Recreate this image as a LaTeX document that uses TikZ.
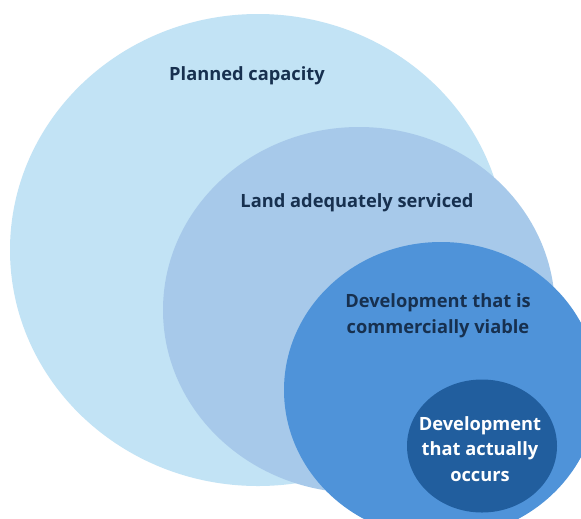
\documentclass[tikz,border=0pt]{standalone}
\usepackage{fontspec}
\setmainfont{Open Sans}
\usepackage{tikz}
\usetikzlibrary{shapes.geometric}
\definecolor{planblue}{HTML}{C2E3F5}
\definecolor{landblue}{HTML}{A7C9EA}
\definecolor{viableblue}{HTML}{4F93D9}
\definecolor{occurblue}{HTML}{215E9E}
\definecolor{labelnavy}{HTML}{17304F}
\newdimen\px
\px=0.02cm
\begin{document}
\begin{tikzpicture}[x=\px,y=-\px,
  blob/.style={ellipse,inner sep=0pt,draw=none},
  lbl/.style={font=\bfseries\fontsize{10.4}{14.6}\selectfont,text=labelnavy,align=center}]
\clip (0,0) rectangle (581,518);
\fill[white] (0,0) rectangle (581,518);
% nested areas, largest first
\node (planned) [blob,fill=planblue,minimum width=496\px,minimum height=472\px] at (258,250) {};
\node (land) [blob,fill=landblue,minimum width=392\px,minimum height=366\px] at (359,310) {};
\node (viable) [blob,fill=viableblue,minimum width=314\px,minimum height=296\px] at (441,390) {};
\node (occurs) [blob,fill=occurblue,minimum width=150\px,minimum height=133\px] at (482,446) {};
% labels
\node (plannedtxt) [lbl] at (247,76) {Planned capacity};
\node (landtxt) [lbl] at (357,203) {Land adequately serviced};
\node (viabletxt) [lbl] at (438,316) {Development that is\\commercially viable};
\node (occurstxt) [lbl,text=white] at (480,449) {Development\\that actually\\occurs};
\end{tikzpicture}
\end{document}
